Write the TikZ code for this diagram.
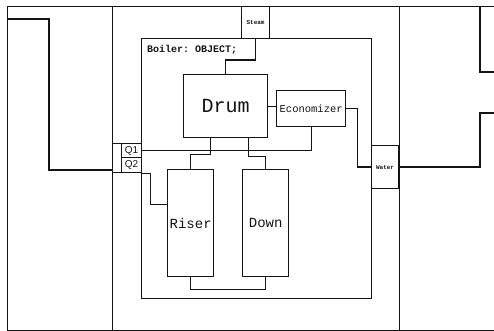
\documentclass[tikz,border=0pt]{standalone}
\usepackage{fontspec}
\setmonofont{Liberation Mono}
\setsansfont{Liberation Sans}
\usetikzlibrary{positioning}
\definecolor{ink}{HTML}{141414}

\begin{document}
\begin{tikzpicture}[
  x=1pt, y=-1pt,
  blockstyle/.style={draw=ink, line width=1.3pt, fill=white, anchor=north west, inner sep=0pt, text=ink, font=\ttfamily},
  portstyle/.style={draw=ink, line width=1.1pt, anchor=north west, inner sep=0pt, text=ink, font=\ttfamily\bfseries\fontsize{6}{7}\selectfont},
  qstyle/.style={draw=ink, line width=1.1pt, anchor=north west, inner sep=0pt, minimum width=20pt, text=ink, font=\sffamily\fontsize{10}{11}\selectfont},
  wire/.style={draw=ink, line width=1.2pt},
  frameline/.style={draw=ink, line width=0.9pt}
]
  \useasboundingbox (0,0) rectangle (494,331);

  \draw[frameline] (494,6) -- (7,6) -- (7,330) -- (494,330);
  \node[draw=ink, line width=0.9pt, anchor=north west, inner sep=0pt, minimum width=287pt, minimum height=324pt] (mid) at (112,6) {};

  \node[blockstyle, fill=none, minimum width=230pt, minimum height=260pt] (boiler) at (141,38) {};
  \node[anchor=west, inner sep=0pt, text=ink, font=\ttfamily\bfseries\fontsize{10}{12}\selectfont] (blabel) at (147,50) {Boiler: OBJECT;};

  \node[portstyle, minimum width=28pt, minimum height=32pt] (steam) at (241,6) {Steam};
  \node[portstyle, minimum width=27pt, minimum height=43pt] (water) at (371,145) {Water};
  \node[qstyle, minimum height=14pt] (q1) at (121,143) {Q1};
  \node[qstyle, minimum height=15pt] (q2) at (121,157) {Q2};
  \node[draw=ink, line width=1pt, anchor=north west, inner sep=0pt, minimum width=9pt, minimum height=29pt] (qin) at (112,143) {};

  \node[blockstyle, minimum width=84pt, minimum height=63pt, font=\ttfamily\fontsize{20}{22}\selectfont] (drum) at (183,74) {Drum};
  \node[blockstyle, minimum width=69pt, minimum height=36pt, font=\ttfamily\fontsize{10.5}{12}\selectfont] (econ) at (276,90) {Economizer};
  \node[blockstyle, minimum width=46pt, minimum height=107pt, font=\ttfamily\fontsize{14}{16}\selectfont] (riser) at (167,169) {Riser};
  \node[blockstyle, minimum width=46pt, minimum height=107pt, font=\ttfamily\fontsize{14}{16}\selectfont] (down) at (242,169) {Down};

  \coordinate (lbend) at (49,19);
  \coordinate (lin) at (7,19);
  \coordinate (rbend) at (480,113);
  \coordinate (rout) at (494,113);
  \coordinate (tbend) at (480,6);
  \coordinate (tout) at (494,72);

  \draw[wire] (drum.north) -- ++(0,-14) -| (steam.south);
  \draw[wire] (drum.east) -- (econ.west |- drum.east);
  \draw[wire] (econ.east) -- ++(11,0) |- (water.west);
  \draw[wire] (econ.south) |- (q1.east);
  \draw[wire] ([xshift=-15pt]drum.south) -- ++(0,16) -| (riser.north);
  \draw[wire] ([xshift=23pt]drum.south) -- ++(0,18) -| (down.north);
  \draw[wire] (riser.south) -- ++(0,12) -| (down.south);
  \draw[wire] (q2.south east) -- ++(8,0) |- ([yshift=19pt]riser.west);
  \draw[wire] ([yshift=3pt]qin.south west) -| (lbend) -- (lin);
  \draw[wire] (water.east) -| (rbend) -- (rout);
  \draw[wire] (tbend) |- (tout);
\end{tikzpicture}
\end{document}
